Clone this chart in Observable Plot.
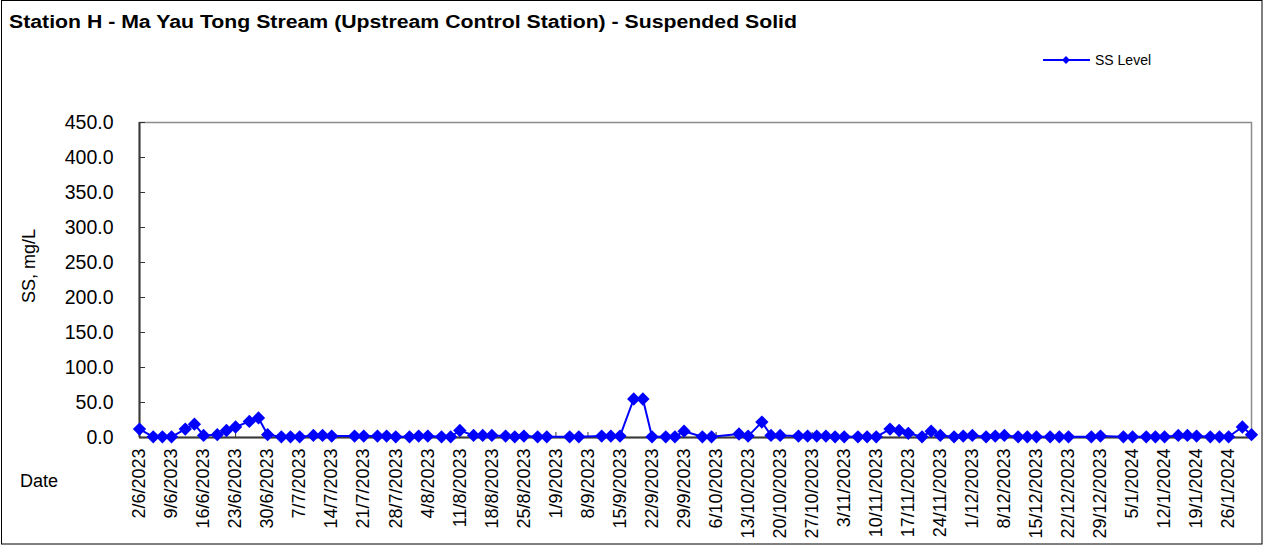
<!DOCTYPE html>
<html><head><meta charset="utf-8">
<script src="https://cdn.jsdelivr.net/npm/d3@7"></script>
<script src="https://cdn.jsdelivr.net/npm/@observablehq/plot@0.6"></script>
<style>
body{margin:0;background:#fff;}
#chart{position:relative;width:1263px;height:545px;overflow:hidden;}
</style></head><body><div id="chart"></div>
<script>
const chartTitle = "Station H - Ma Yau Tong Stream (Upstream Control Station) - Suspended Solid";
const yAxisTitle = "SS, mg/L";
const xAxisTitle = "Date";
const seriesName = "SS Level";

const sampleDates = [
  "2/6/2023","5/6/2023","7/6/2023","9/6/2023","12/6/2023","14/6/2023","16/6/2023","19/6/2023","21/6/2023","23/6/2023",
  "26/6/2023","28/6/2023","30/6/2023","3/7/2023","5/7/2023","7/7/2023","10/7/2023","12/7/2023","14/7/2023","19/7/2023",
  "21/7/2023","24/7/2023","26/7/2023","28/7/2023","31/7/2023","2/8/2023","4/8/2023","7/8/2023","9/8/2023","11/8/2023",
  "14/8/2023","16/8/2023","18/8/2023","21/8/2023","23/8/2023","25/8/2023","28/8/2023","30/8/2023","4/9/2023","6/9/2023",
  "11/9/2023","13/9/2023","15/9/2023","18/9/2023","20/9/2023","22/9/2023","25/9/2023","27/9/2023","29/9/2023","3/10/2023",
  "5/10/2023","11/10/2023","13/10/2023","16/10/2023","18/10/2023","20/10/2023","24/10/2023","26/10/2023","28/10/2023","30/10/2023",
  "1/11/2023","3/11/2023","6/11/2023","8/11/2023","10/11/2023","13/11/2023","15/11/2023","17/11/2023","20/11/2023","22/11/2023",
  "24/11/2023","27/11/2023","29/11/2023","1/12/2023","4/12/2023","6/12/2023","8/12/2023","11/12/2023","13/12/2023","15/12/2023",
  "18/12/2023","20/12/2023","22/12/2023","27/12/2023","29/12/2023","3/1/2024","5/1/2024","8/1/2024","10/1/2024","12/1/2024",
  "15/1/2024","17/1/2024","19/1/2024","22/1/2024","24/1/2024","26/1/2024","29/1/2024","31/1/2024"
];
const ssValues = [
  12, 1, 1, 1, 12, 19, 3, 4, 10, 15,
  23, 28, 4, 1, 1, 1, 3, 3, 2, 2,
  2, 2, 2, 1, 1, 2, 2, 1, 1, 10,
  3, 3, 3, 2, 1, 2, 1, 1, 1, 1,
  2, 2, 2, 55, 55, 1, 1, 1, 9, 1,
  1, 5, 2, 22, 3, 3, 2, 2, 2, 2,
  1, 1, 1, 1, 1, 12, 10, 6, 1, 9,
  3, 1, 2, 3, 1, 2, 3, 1, 1, 1,
  1, 1, 1, 1, 2, 1, 1, 1, 1, 1,
  3, 3, 2, 1, 1, 1, 15, 4
];
const xTickLabels = [
  "2/6/2023","9/6/2023","16/6/2023","23/6/2023","30/6/2023","7/7/2023","14/7/2023","21/7/2023","28/7/2023",
  "4/8/2023","11/8/2023","18/8/2023","25/8/2023","1/9/2023","8/9/2023","15/9/2023","22/9/2023","29/9/2023",
  "6/10/2023","13/10/2023","20/10/2023","27/10/2023","3/11/2023","10/11/2023","17/11/2023","24/11/2023",
  "1/12/2023","8/12/2023","15/12/2023","22/12/2023","29/12/2023","5/1/2024","12/1/2024","19/1/2024","26/1/2024"
];
const xDomainLabels = ["2/6/2023", "31/1/2024"];
const yTicks = [0, 50, 100, 150, 200, 250, 300, 350, 400, 450];

const parse = d3.utcParse("%d/%m/%Y");
const data = sampleDates.map((s, i) => ({date: parse(s), value: ssValues[i]}));
const tickDates = xTickLabels.map(parse);
const labelMap = new Map(xTickLabels.map(s => [+parse(s), s]));

const W = 1263, H = 545, ML = 139, MR = 12, MT = 122, MB = 108;
const FONT = "'Liberation Sans', Arial, sans-serif";
const BLUE = "#0000ff";

const plot = Plot.plot({
  width: W, height: H,
  marginLeft: ML, marginRight: MR, marginTop: MT, marginBottom: MB,
  style: {fontFamily: FONT, background: "transparent", color: "#000", overflow: "visible"},
  x: {type: "utc", domain: xDomainLabels.map(parse)},
  y: {domain: [yTicks[0], yTicks[yTicks.length - 1]]},
  marks: [
    Plot.frame({stroke: "#8c8c8c", strokeWidth: 1.5}),
    Plot.tickX(tickDates, {x: d => d, insetTop: (H - MT - MB) - 5, stroke: "#333", strokeWidth: 1}),
    Plot.tickY(yTicks, {y: d => d, insetRight: (W - ML - MR) - 6, stroke: "#333", strokeWidth: 1}),
    Plot.ruleX([parse(xDomainLabels[0])], {stroke: "#3a3a3a", strokeWidth: 2}),
    Plot.ruleY([0], {stroke: "#3a3a3a", strokeWidth: 2}),
    Plot.axisX({ticks: tickDates, tickFormat: d => labelMap.get(+d), tickRotate: -90, tickSize: 0, tickPadding: 11, fontSize: 18, label: null}),
    Plot.axisY({ticks: yTicks, tickFormat: d => d.toFixed(1), tickSize: 0, tickPadding: 26, fontSize: 19.5, label: null}),
    Plot.line(data, {x: "date", y: "value", stroke: BLUE, strokeWidth: 2}),
    Plot.dot(data, {x: "date", y: "value", symbol: "diamond2", r: 6, fill: BLUE, stroke: "none"})
  ]
});

const svg = d3.select(plot);
// outer border
svg.append("rect").attr("x", 1.5).attr("y", 0.5).attr("width", W - 2.5).attr("height", H - 1.5)
  .attr("fill", "none").attr("stroke", "#000").attr("stroke-width", 1);
// title
svg.append("text").attr("x", 9).attr("y", 28).attr("text-anchor", "start").attr("font-family", FONT).attr("font-weight", "bold")
  .attr("font-size", 18).attr("fill", "#000").attr("textLength", 788).attr("lengthAdjust", "spacingAndGlyphs")
  .text(chartTitle);
// legend
const lg = svg.append("g");
lg.append("line").attr("x1", 1043).attr("x2", 1090).attr("y1", 60).attr("y2", 60).attr("stroke", BLUE).attr("stroke-width", 2);
lg.append("path").attr("d", d3.symbol(d3.symbolDiamond2, 40)()).attr("transform", "translate(1066,60)").attr("fill", BLUE);
lg.append("text").attr("x", 1095).attr("y", 65).attr("text-anchor", "start").attr("font-family", FONT).attr("font-size", 14).attr("fill", "#000").text(seriesName);
// axis titles
svg.append("text").attr("transform", "translate(35,266) rotate(-90)").attr("text-anchor", "middle")
  .attr("font-family", FONT).attr("font-size", 18).attr("fill", "#000").text(yAxisTitle);
svg.append("text").attr("x", 20).attr("y", 487).attr("text-anchor", "start").attr("font-family", FONT).attr("font-size", 18).attr("fill", "#000").text(xAxisTitle);

document.getElementById("chart").appendChild(plot);
</script></body></html>
